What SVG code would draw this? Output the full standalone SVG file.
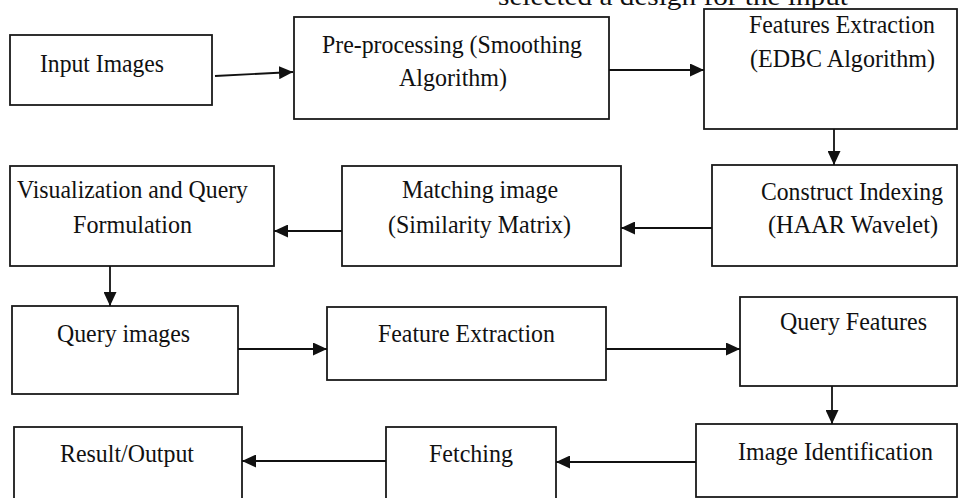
<svg xmlns="http://www.w3.org/2000/svg" width="964" height="498" viewBox="0 0 964 498">
  <style>
    .box { fill: #ffffff; stroke: #1a1a1a; stroke-width: 1.8; }
    .lbl { font-family: "Liberation Serif", "Times New Roman", serif; font-size: 25px; fill: #111111; }
    .edge { fill: none; stroke: #111111; stroke-width: 1.8; marker-end: url(#arrow); }
  </style>
  <defs>
    <marker id="arrow" markerUnits="userSpaceOnUse" markerWidth="15" markerHeight="13" refX="14" refY="6.5" orient="auto">
      <path d="M0,0 L14,6.5 L0,13 z" fill="#111111"/>
    </marker>
  </defs>
  <rect width="964" height="498" fill="#ffffff"/>

  <!-- caption line running off the top edge -->
  <text class="lbl" x="498" y="5" font-size="26" textLength="350" lengthAdjust="spacingAndGlyphs">selected a design for the input</text>

  <g id="input-images">
    <rect class="box" x="10" y="35" width="202" height="70"/>
    <text class="lbl" x="40" y="72" textLength="124" lengthAdjust="spacingAndGlyphs">Input Images</text>
  </g>
  <g id="pre-processing">
    <rect class="box" x="294" y="17" width="315" height="102"/>
    <text class="lbl" x="322" y="53" textLength="260" lengthAdjust="spacingAndGlyphs">Pre-processing (Smoothing</text>
    <text class="lbl" x="399" y="86" textLength="108" lengthAdjust="spacingAndGlyphs">Algorithm)</text>
  </g>
  <g id="features-extraction">
    <rect class="box" x="704" y="9" width="253" height="120"/>
    <text class="lbl" x="749" y="33" textLength="186" lengthAdjust="spacingAndGlyphs">Features Extraction</text>
    <text class="lbl" x="750" y="67" textLength="185" lengthAdjust="spacingAndGlyphs">(EDBC Algorithm)</text>
  </g>
  <g id="visualization">
    <rect class="box" x="10" y="166" width="264" height="100"/>
    <text class="lbl" x="17" y="198" textLength="231" lengthAdjust="spacingAndGlyphs">Visualization and Query</text>
    <text class="lbl" x="73" y="233" textLength="119" lengthAdjust="spacingAndGlyphs">Formulation</text>
  </g>
  <g id="matching-image">
    <rect class="box" x="342" y="166" width="279" height="100"/>
    <text class="lbl" x="402" y="198" textLength="156" lengthAdjust="spacingAndGlyphs">Matching image</text>
    <text class="lbl" x="388" y="233" textLength="183" lengthAdjust="spacingAndGlyphs">(Similarity Matrix)</text>
  </g>
  <g id="construct-indexing">
    <rect class="box" x="712" y="165" width="245" height="101"/>
    <text class="lbl" x="761" y="200" textLength="182" lengthAdjust="spacingAndGlyphs">Construct Indexing</text>
    <text class="lbl" x="768" y="233" textLength="170" lengthAdjust="spacingAndGlyphs">(HAAR Wavelet)</text>
  </g>
  <g id="query-images">
    <rect class="box" x="12" y="306" width="226" height="88"/>
    <text class="lbl" x="57" y="342" textLength="133" lengthAdjust="spacingAndGlyphs">Query images</text>
  </g>
  <g id="feature-extraction">
    <rect class="box" x="327" y="307" width="279" height="73"/>
    <text class="lbl" x="378" y="342" textLength="177" lengthAdjust="spacingAndGlyphs">Feature Extraction</text>
  </g>
  <g id="query-features">
    <rect class="box" x="740" y="297" width="217" height="89"/>
    <text class="lbl" x="780" y="330" textLength="147" lengthAdjust="spacingAndGlyphs">Query Features</text>
  </g>
  <g id="result-output">
    <rect class="box" x="14" y="427" width="228" height="80"/>
    <text class="lbl" x="60" y="462" textLength="134" lengthAdjust="spacingAndGlyphs">Result/Output</text>
  </g>
  <g id="fetching">
    <rect class="box" x="386" y="427" width="170" height="80"/>
    <text class="lbl" x="429" y="462" textLength="84" lengthAdjust="spacingAndGlyphs">Fetching</text>
  </g>
  <g id="image-identification">
    <rect class="box" x="696" y="424" width="261" height="73"/>
    <text class="lbl" x="738" y="460" textLength="195" lengthAdjust="spacingAndGlyphs">Image Identification</text>
  </g>

  <g id="connectors">
    <line class="edge" x1="215" y1="76" x2="293" y2="72"/>
    <line class="edge" x1="609" y1="70" x2="704" y2="70"/>
    <line class="edge" x1="834" y1="129" x2="834" y2="165"/>
    <line class="edge" x1="712" y1="228" x2="621" y2="228"/>
    <line class="edge" x1="342" y1="231" x2="274" y2="231"/>
    <line class="edge" x1="110" y1="266" x2="110" y2="306"/>
    <line class="edge" x1="238" y1="349" x2="327" y2="349"/>
    <line class="edge" x1="606" y1="349" x2="740" y2="349"/>
    <line class="edge" x1="832" y1="386" x2="832" y2="424"/>
    <line class="edge" x1="696" y1="462" x2="556" y2="462"/>
    <line class="edge" x1="386" y1="461" x2="242" y2="461"/>
  </g>
</svg>
